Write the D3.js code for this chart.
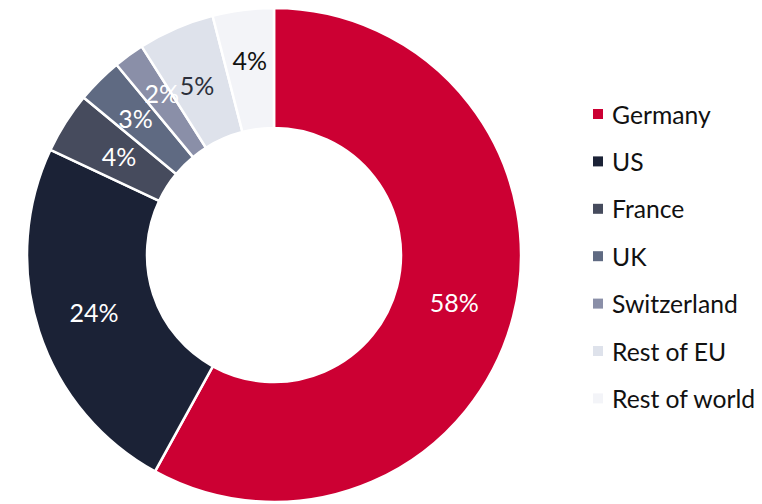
<!DOCTYPE html>
<html>
<head>
<meta charset="utf-8">
<script src="https://cdn.jsdelivr.net/npm/d3@7"></script>
<style>
  body { margin: 0; background: #fff; }
  svg { display: block; font-family: Lato, "Open Sans", sans-serif; }
</style>
</head>
<body>
<svg id="chart" width="762" height="504"></svg>
<script>
// data
const countries = ["Germany", "US", "France", "UK", "Switzerland", "Rest of EU", "Rest of world"];
const shares = [58, 24, 4, 3, 2, 5, 4];
const colours = ["#cc0033", "#1b2236", "#464b5d", "#5f6a82", "#8a8fa8", "#dee2eb", "#f3f4f8"];
const labelColours = ["#fff", "#fff", "#fff", "#fff", "#fff", "#2b2f3a", "#111"];
// small hand nudges for the labels that sit off the centroid
const labelNudge = [[0, 1], [-3, 0], [2, 1], [-7, -5], [-3, -12], [-3, 1], [-1, -10]];

const svg = d3.select('#chart');
const cx = 274, cy = 255;
const outerR = 247, innerR = 127;

const rows = countries.map((c, i) => ({name: c, value: shares[i], i: i}));

const pie = d3.pie().value(d => d.value).sort(null);
const arc = d3.arc().innerRadius(innerR).outerRadius(outerR);
const labelArc = d3.arc().innerRadius(186).outerRadius(186);

const g = svg.append('g').attr('transform', `translate(${cx},${cy})`);
const slices = pie(rows);

g.selectAll('path')
  .data(slices)
  .enter().append('path')
    .attr('d', arc)
    .attr('fill', d => colours[d.data.i])
    .attr('stroke', '#fff')
    .attr('stroke-width', 2.5);

g.selectAll('text')
  .data(slices)
  .enter().append('text')
    .attr('transform', d => {
      let p = labelArc.centroid(d);
      let n = labelNudge[d.data.i];
      return `translate(${p[0] + n[0]},${p[1] + n[1]})`;
    })
    .attr('text-anchor', 'middle')
    .attr('dominant-baseline', 'central')
    .attr('font-size', 25)
    .attr('fill', d => labelColours[d.data.i])
    .text(d => d.data.value + '%');

// legend
const legend = svg.append('g').attr('transform', 'translate(593,114)');
const item = legend.selectAll('g')
  .data(rows)
  .enter().append('g')
    .attr('transform', (d, i) => `translate(0,${i * 47.4})`);
item.append('rect')
  .attr('x', 0).attr('y', -5)
  .attr('width', 10).attr('height', 10)
  .attr('fill', d => colours[d.i]);
item.append('text')
  .attr('x', 19)
  .attr('dominant-baseline', 'central')
  .attr('font-size', 24.7)
  .attr('fill', '#111')
  .text(d => d.name);
</script>
</body>
</html>
